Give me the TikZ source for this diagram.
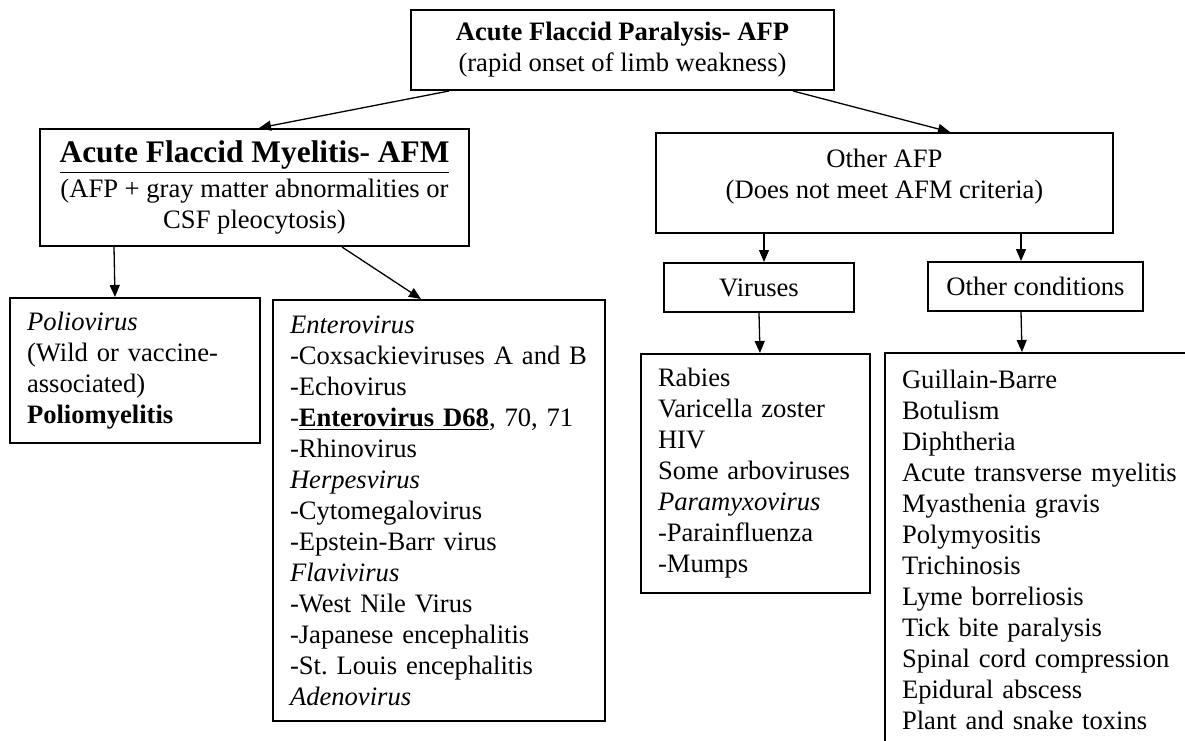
\documentclass[tikz,border=0pt]{standalone}
\usepackage{fontspec}
\setmainfont{Liberation Serif}
\usetikzlibrary{arrows.meta}

\begin{document}
\begin{tikzpicture}[x=0.5pt,y=-0.5pt,
    font=\fontsize{13.3}{15.5}\selectfont,
    box/.style={draw, line width=1pt, inner sep=0pt, align=center},
    listbox/.style={draw, line width=1pt, inner xsep=8.5pt, inner ysep=0pt, align=left, anchor=north west},
    arr/.style={line width=0.65pt, -{Triangle[length=6pt,width=5pt]}}]

    \useasboundingbox (0,0) rectangle (1185,740);

    \node[box, minimum width=211.5pt, minimum height=40pt] (afp) at (622.5,50)
        {\textbf{Acute Flaccid Paralysis- AFP}\\(rapid onset of limb weakness)};

    \node[box, minimum width=214.5pt, minimum height=58.5pt] (afm) at (254.5,187.5)
        {{\fontsize{15.7}{18}\selectfont\textbf{\underline{Acute Flaccid Myelitis- AFM}}}\\[2pt](AFP + gray matter abnormalities or\\CSF pleocytosis)};
    \node[box, minimum width=228.5pt, minimum height=50pt] (other) at (884.5,183)
        {Other AFP\\(Does not meet AFM criteria)\\[-6pt]\mbox{}};

    \node[box, minimum width=95pt, minimum height=24.5pt] (viruses) at (759,287.5) {Viruses};
    \node[box, minimum width=107.5pt, minimum height=24.5pt] (othercond) at (1035.5,286.5) {Other conditions};

    %AFM causes
    \node[listbox, text width=108pt, minimum height=72.5pt] (polio) at (9,297)
        {\textit{Poliovirus}\\(Wild or vaccine-\\associated)\\\textbf{Poliomyelitis}};
    \node[listbox, text width=149pt, minimum height=210.5pt] (entero) at (272,299)
        {\textit{Enterovirus}\\-Coxsackieviruses A and B\\-Echovirus\\-\textbf{\underline{Enterovirus D68}}, 70, 71\\-Rhinovirus\\\textit{Herpesvirus}\\-Cytomegalovirus\\-Epstein-Barr virus\\\textit{Flavivirus}\\-West Nile Virus\\-Japanese encephalitis\\-St.\ Louis encephalitis\\\textit{Adenovirus}};

    %other AFP causes
    \node[listbox, text width=97.5pt, minimum height=119.5pt] (rabies) at (640,353)
        {Rabies\\Varicella zoster\\HIV\\Some arboviruses\\\textit{Paramyxovirus}\\-Parainfluenza\\-Mumps};
    \node[listbox, text width=143pt, minimum height=196.5pt] (conditions) at (884,352)
        {Guillain-Barre\\Botulism\\Diphtheria\\Acute transverse myelitis\\Myasthenia gravis\\Polymyositis\\Trichinosis\\Lyme borreliosis\\Tick bite paralysis\\Spinal cord compression\\Epidural abscess\\Plant and snake toxins};

    \draw[arr] ([xshift=19.5pt]afp.south west) -- ([xshift=110pt]afm.north west);
    \draw[arr] ([xshift=-21pt]afp.south east) -- ([xshift=147.5pt]other.north west);
    \draw[arr] ([xshift=37.5pt]afm.south west) -- ([xshift=53pt]polio.north west);
    \draw[arr] ([xshift=151.5pt]afm.south west) -- ([xshift=74.5pt]entero.north west);
    \draw[arr] ([xshift=54.5pt]other.south west) -- ([xshift=50.5pt]viruses.north west);
    \draw[arr] ([xshift=183pt]other.south west) -- ([xshift=47pt]othercond.north west);
    \draw[arr] ([xshift=48pt]viruses.south west) -- ([xshift=60pt]rabies.north west);
    \draw[arr] ([xshift=47pt]othercond.south west) -- ([xshift=69pt]conditions.north west);

\end{tikzpicture}
\end{document}
